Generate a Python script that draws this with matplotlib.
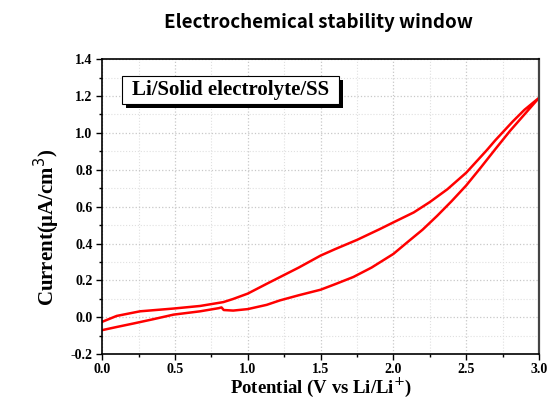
import numpy as np
import matplotlib.pyplot as plt
from matplotlib.ticker import MultipleLocator
from matplotlib.patches import Rectangle
import matplotlib.patheffects as pe

# forward sweep 0 -> 3 V (lower branch)
v_fwd = [0.0, 0.1, 0.215, 0.35, 0.49, 0.673, 0.80, 0.82, 0.835, 0.90, 1.0, 1.13, 1.22,
         1.35, 1.5, 1.6, 1.725, 1.85, 2.0, 2.1, 2.2, 2.3, 2.4, 2.5, 2.6, 2.7, 2.8, 2.9, 3.0]
i_fwd = [-0.069, -0.052, -0.033, -0.010, 0.015, 0.033, 0.050, 0.054, 0.040, 0.037, 0.045, 0.068, 0.092,
         0.120, 0.150, 0.180, 0.219, 0.270, 0.344, 0.410, 0.475, 0.550, 0.630, 0.715, 0.812, 0.912, 1.010, 1.100, 1.190]
# reverse sweep 3 -> 0 V (upper branch)
v_rev = [3.0, 2.9, 2.82, 2.7, 2.64, 2.5, 2.37, 2.25, 2.14, 2.0, 1.908, 1.75,
         1.6, 1.5, 1.35, 1.22, 1.13, 1.0, 0.9, 0.833, 0.673, 0.49, 0.26, 0.1, 0.0]
i_rev = [1.190, 1.125, 1.062, 0.960, 0.905, 0.784, 0.694, 0.625, 0.569, 0.515, 0.479, 0.420,
         0.370, 0.335, 0.270, 0.218, 0.182, 0.129, 0.100, 0.083, 0.062, 0.048, 0.033, 0.008, -0.024]

v = v_fwd + v_rev[1:]
cur = i_fwd + i_rev[1:]

fig = plt.figure(figsize=(5.58, 3.99), dpi=100)
ax = fig.add_axes([0.183, 0.112, 0.783, 0.740])

ax.plot(v, cur, color='#ff0000', lw=1.8, solid_joinstyle='round')

ax.set_xlim(0, 3.0)
ax.set_ylim(-0.2, 1.4)
ax.xaxis.set_major_locator(MultipleLocator(0.5))
ax.xaxis.set_minor_locator(MultipleLocator(0.25))
ax.yaxis.set_major_locator(MultipleLocator(0.2))
ax.yaxis.set_minor_locator(MultipleLocator(0.1))
ax.grid(which='major', color='#c8c8c8', ls=':', lw=0.9)
ax.grid(which='minor', color='#e0e0e0', ls=':', lw=0.8)
ax.set_axisbelow(True)

serif = 'Liberation Serif'
ax.tick_params(which='both', direction='out', width=1.0, top=False, right=False, pad=3)
ax.tick_params(axis='x', which='both', pad=2)
ax.tick_params(which='major', length=4)
ax.tick_params(which='minor', length=2.5)
ax.xaxis.set_major_formatter(plt.FuncFormatter(lambda x, p: f'{x:.1f}'))
ax.yaxis.set_major_formatter(plt.FuncFormatter(lambda y, p: f'{y:.1f}'))
for lab in ax.get_xticklabels() + ax.get_yticklabels():
    lab.set_fontfamily(serif)
    lab.set_fontweight('bold')
    lab.set_fontsize(10)

for s in ax.spines.values():
    s.set_linewidth(1.2)
ax.spines['right'].set_linewidth(1.6)
ax.spines['right'].set_color('#444444')

ax.set_xlabel('Potential (V vs Li/Li$^{+}$)', fontfamily=serif, fontweight='bold',
              fontsize=13.5, labelpad=0)
ax.set_ylabel('Current(μA/cm$^{3}$)', fontfamily=serif, fontweight='bold', fontsize=15)
ax.yaxis.set_label_coords(-0.092, 0.43)

# label box with a solid drop shadow
box = Rectangle((0.0458, 0.848), 0.496, 0.095, transform=ax.transAxes,
                fc='white', ec='black', lw=0.8, zorder=5)
box.set_path_effects([pe.SimplePatchShadow(offset=(3, -3), shadow_rgbFace='black', alpha=1.0),
                      pe.Normal()])
ax.add_patch(box)
ax.text(0.294, 0.894, 'Li/Solid electrolyte/SS', transform=ax.transAxes,
        ha='center', va='center', fontfamily=serif, fontweight='bold', fontsize=15, zorder=6)

fig.text(318 / 558, 1 - 22 / 399, 'Electrochemical stability window', ha='center', va='center',
         fontfamily=['Noto Sans CJK SC', 'DejaVu Sans'], fontweight='bold', fontsize=13.5)

fig.savefig('out.png', dpi=100)
